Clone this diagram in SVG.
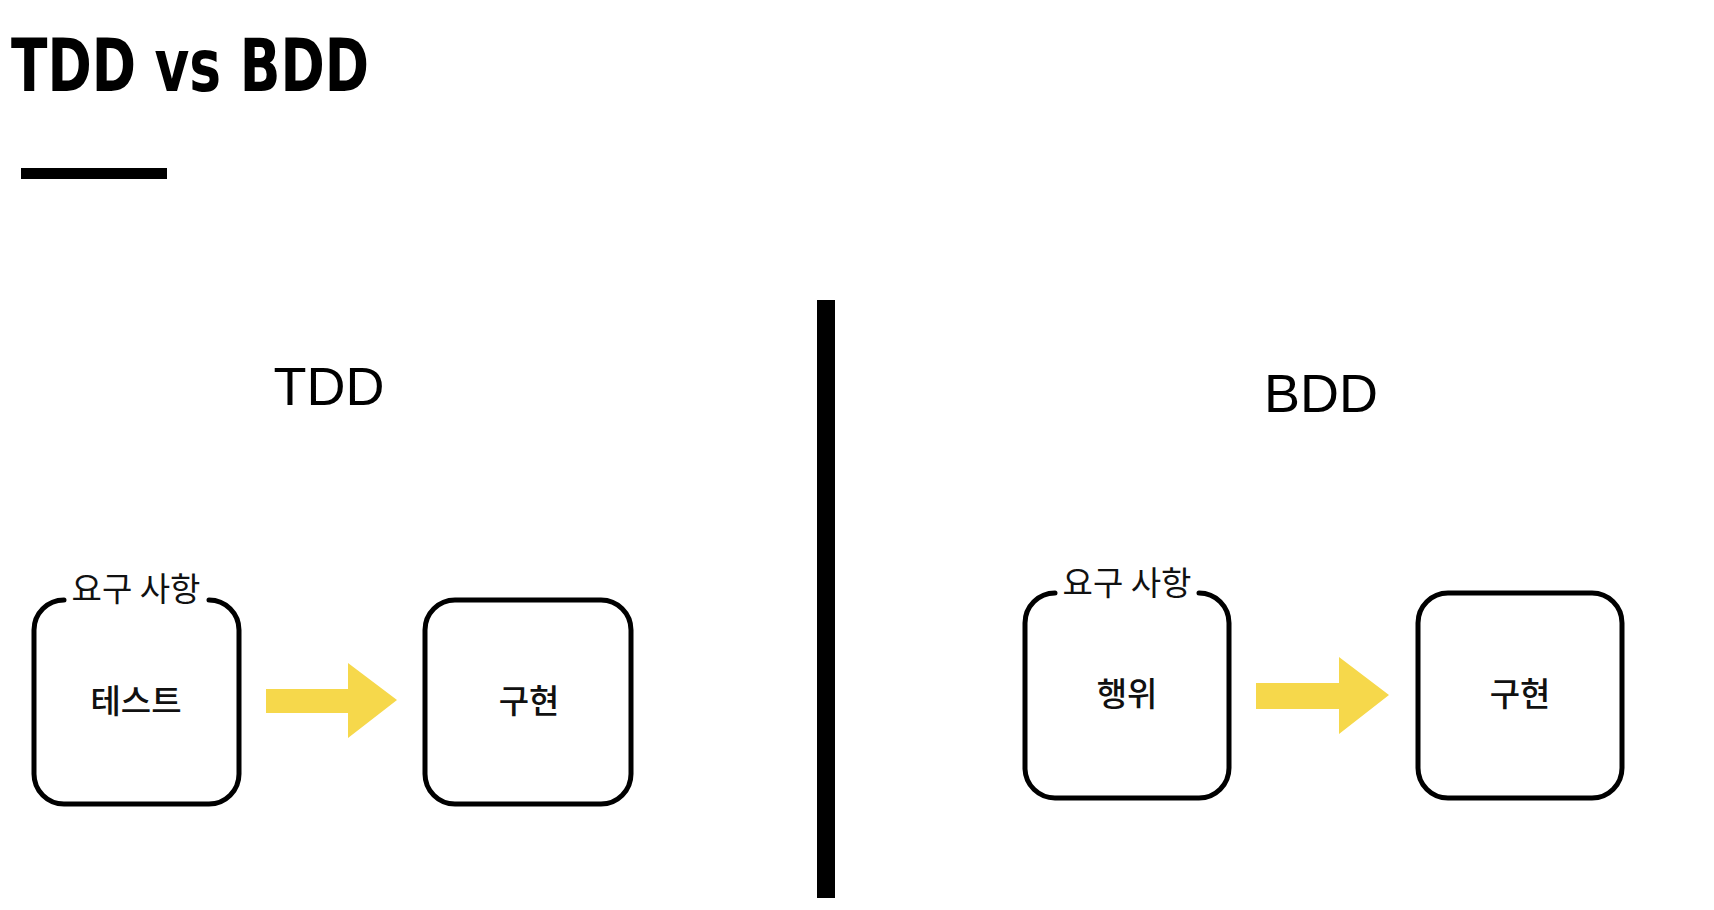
<svg xmlns="http://www.w3.org/2000/svg" width="1714" height="910" viewBox="0 0 1714 910">
<style>
.box{fill:none;stroke:#000;stroke-width:5;stroke-linecap:round;stroke-linejoin:round}
.lbl{font-family:"Noto Sans CJK KR","Noto Sans",sans-serif;font-size:33px;fill:#111;text-anchor:middle}
.in{font-weight:500}
.head{font-family:"Liberation Sans",Arial,sans-serif;font-size:54px;fill:#000;text-anchor:middle}
.arrow{fill:#F6D84B}
</style>
<rect width="1714" height="910" fill="#fff"/>
<g id="title">
<text x="11" y="91" font-family="DejaVu Sans, sans-serif" font-weight="bold" font-size="73" textLength="358" lengthAdjust="spacingAndGlyphs" fill="#000">TDD vs BDD</text>
<rect x="21" y="168" width="146" height="11" fill="#000"/>
</g>
<g id="divider"><rect x="817" y="300" width="18" height="598" fill="#000"/></g>
<g id="tdd-heading"><text class="head" x="329" y="405">TDD</text></g>
<g id="bdd-heading"><text class="head" x="1321" y="412">BDD</text></g>

<g id="tdd-test">
<path class="box" d="M64 600 A30 30 0 0 0 34 630 V774 A30 30 0 0 0 64 804 H209 A30 30 0 0 0 239 774 V630 A30 30 0 0 0 209 600"/>
<text class="lbl" x="136" y="601">요구 사항</text>
<text class="lbl in" x="136" y="713">테스트</text>
</g>
<g id="tdd-impl">
<rect class="box" x="425" y="600" width="206" height="204" rx="30"/>
<text class="lbl in" x="529" y="713">구현</text>
</g>

<g id="bdd-behavior">
<path class="box" d="M1055 593 A30 30 0 0 0 1025 623 V769 A30 30 0 0 0 1055 798 H1199 A30 30 0 0 0 1229 768 V623 A30 30 0 0 0 1199 593"/>
<text class="lbl" x="1127" y="595">요구 사항</text>
<text class="lbl in" x="1127" y="706">행위</text>
</g>
<g id="bdd-impl">
<rect class="box" x="1418" y="593" width="204" height="205" rx="30"/>
<text class="lbl in" x="1520" y="706">구현</text>
</g>

<g id="connectors">
<polygon class="arrow" points="266,689 348,689 348,663 397,700 348,738 348,713 266,713"/>
<polygon class="arrow" points="1256,683 1339,683 1339,657 1389,695 1339,734 1339,709 1256,709"/>
</g>
</svg>
